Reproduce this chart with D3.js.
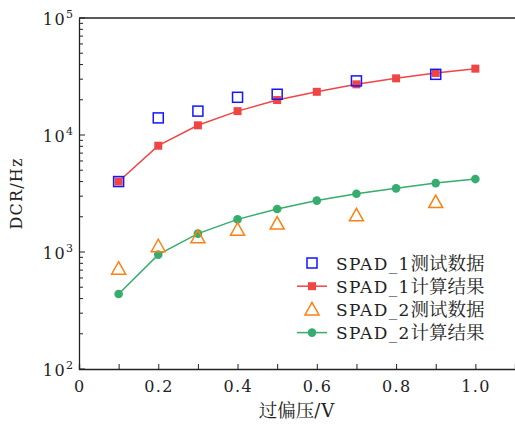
<!DOCTYPE html>
<html><head><meta charset="utf-8">
<script src="https://cdn.jsdelivr.net/npm/d3@7"></script>
<style>
body{margin:0;background:#fff;}
svg text{font-family:'DejaVu Serif','Noto Serif CJK SC','Noto Sans CJK SC',serif;}
</style></head><body>
<script>
const xCalc = [0.1,0.2,0.3,0.4,0.5,0.6,0.7,0.8,0.9,1.0];
const xMeas1 = [0.1,0.2,0.3,0.4,0.5,0.7,0.9];
const spad1Meas = [4000,14000,16000,21000,22300,29000,33000];
const spad1Calc = [4000,8100,12100,16000,19900,23400,27100,30500,33900,36900];
const xMeas2 = [0.1,0.2,0.3,0.4,0.5,0.7,0.9];
const spad2Meas = [720,1120,1340,1550,1750,2060,2670];
const spad2Calc = [437,950,1436,1900,2330,2750,3150,3500,3880,4200];
const xTickLabels = ["0","0.2","0.4","0.6","0.8","1.0"];
const yTickExps = [2,3,4,5];
const legendLabels = ["SPAD_1测试数据","SPAD_1计算结果","SPAD_2测试数据","SPAD_2计算结果"];

const W=515,H=427;
const m={l:79,t:18,r:0,b:58};
const svg=d3.select("body").append("svg").attr("width",W).attr("height",H).style("display","block");
const x=d3.scaleLinear().domain([0,1.1]).range([m.l,W-m.r]);
const y=d3.scaleLog().domain([100,100000]).range([H-m.b,m.t]);

const cBlue="#1515ff",cRed="#f04545",cOrange="#ff8010",cGreen="#35ad6c",cText="#222";

// mixed text: Latin runs vs CJK runs
function mixed(sel,str,latinSize,cjkSize,ls){
  const runs=str.match(/[\u4e00-\u9fff]+|[^\u4e00-\u9fff]+/g);
  runs.forEach(r=>{
    const cjk=/[\u4e00-\u9fff]/.test(r);
    sel.append("tspan").attr("font-size",cjk?cjkSize:latinSize).attr("letter-spacing",cjk?0:ls).text(r);
  });
}

const g=svg.append("g");
const xAxis=d3.axisBottom(x).tickValues(d3.range(0,11).map(i=>i/10)).tickSize(-5).tickFormat("");
g.append("g").attr("transform",`translate(0,${y(100)})`).call(xAxis)
 .call(s=>{s.select(".domain").attr("stroke",cText).attr("stroke-width",1.3);s.selectAll(".tick line").attr("stroke",cText).attr("stroke-width",1);});
xTickLabels.forEach(t=>{
  g.append("text").attr("x",x(+t)+0.7).attr("y",y(100)+23).attr("text-anchor","middle")
   .attr("font-size",16).attr("letter-spacing",1.4).attr("fill",cText).text(t);
});
const yTicks=[];
for(let e=2;e<5;e++){for(let k=1;k<10;k++){yTicks.push(k*Math.pow(10,e));}}
yTicks.push(100000);
const ya=g.append("g").attr("transform",`translate(${m.l},0)`).call(d3.axisLeft(y).tickValues(yTicks).tickSize(0).tickFormat(""));
ya.select(".domain").attr("stroke",cText).attr("stroke-width",1.3);
yTicks.forEach(v=>{
  const major=Math.abs(Math.log10(v)-Math.round(Math.log10(v)))<1e-9;
  ya.append("line").attr("x1",0).attr("x2",major?6:4).attr("y1",y(v)).attr("y2",y(v)).attr("stroke",cText).attr("stroke-width",1);
});
yTickExps.forEach(e=>{
  const t=g.append("text").attr("x",m.l-6).attr("y",y(Math.pow(10,e))+6.5).attr("text-anchor","end").attr("fill",cText);
  t.append("tspan").attr("font-size",16).attr("letter-spacing",1.4).text("10");
  t.append("tspan").attr("dy",-7).attr("font-size",11).text(String(e));
});
g.append("line").attr("x1",m.l).attr("x2",W).attr("y1",m.t).attr("y2",m.t).attr("stroke",cText).attr("stroke-width",1.3);

const xt=svg.append("text").attr("x",(m.l+W)/2).attr("y",417).attr("text-anchor","middle").attr("fill",cText);
mixed(xt,"过偏压/V",18,18.5,1);
svg.append("text").attr("transform",`translate(22,${(m.t+H-m.b)/2}) rotate(-90)`).attr("text-anchor","middle")
 .attr("font-size",16).attr("letter-spacing",1.2).attr("fill",cText).text("DCR/Hz");

const line=d3.line().x(d=>x(d[0])).y(d=>y(d[1]));
const d1=xCalc.map((v,i)=>[v,spad1Calc[i]]);
const d2=xCalc.map((v,i)=>[v,spad2Calc[i]]);
svg.append("path").attr("d",line(d1)).attr("fill","none").attr("stroke",cRed).attr("stroke-width",1.5);
svg.append("path").attr("d",line(d2)).attr("fill","none").attr("stroke",cGreen).attr("stroke-width",1.5);

const tri=(cx,cy)=>`M${cx},${cy-7}L${cx+7},${cy+5.5}L${cx-7},${cy+5.5}Z`;
svg.append("g").selectAll("rect").data(d1).join("rect")
 .attr("x",d=>x(d[0])-4).attr("y",d=>y(d[1])-4).attr("width",8).attr("height",8).attr("fill",cRed);
svg.append("g").selectAll("rect").data(xMeas1.map((v,i)=>[v,spad1Meas[i]])).join("rect")
 .attr("x",d=>x(d[0])-5).attr("y",d=>y(d[1])-5).attr("width",10).attr("height",10).attr("fill","none").attr("stroke",cBlue).attr("stroke-width",1.5);
svg.append("g").selectAll("circle").data(d2).join("circle")
 .attr("cx",d=>x(d[0])).attr("cy",d=>y(d[1])).attr("r",4.3).attr("fill",cGreen);
svg.append("g").selectAll("path").data(xMeas2.map((v,i)=>[v,spad2Meas[i]])).join("path")
 .attr("d",d=>tri(x(d[0]),y(d[1]))).attr("fill","none").attr("stroke",cOrange).attr("stroke-width",1.5);

const lg=svg.append("g");
const lx=312, ly0=263, dy=23.2;
legendLabels.forEach((t,i)=>{
  const cy=ly0+i*dy;
  if(i===1||i===3){
    lg.append("line").attr("x1",lx-15).attr("x2",lx+15).attr("y1",cy).attr("y2",cy).attr("stroke",i===1?cRed:cGreen).attr("stroke-width",1.5);
  }
  if(i===0) lg.append("rect").attr("x",lx-5).attr("y",cy-5).attr("width",10).attr("height",10).attr("fill","none").attr("stroke",cBlue).attr("stroke-width",1.5);
  if(i===1) lg.append("rect").attr("x",lx-4).attr("y",cy-4).attr("width",8).attr("height",8).attr("fill",cRed);
  if(i===2) lg.append("path").attr("d",tri(lx,cy)).attr("fill","none").attr("stroke",cOrange).attr("stroke-width",1.5);
  if(i===3) lg.append("circle").attr("cx",lx).attr("cy",cy).attr("r",4.3).attr("fill",cGreen);
  const tx=lg.append("text").attr("x",336).attr("y",cy+6.5).attr("fill",cText);
  mixed(tx,t,17,18.5,1.3);
});
</script>
</body></html>
